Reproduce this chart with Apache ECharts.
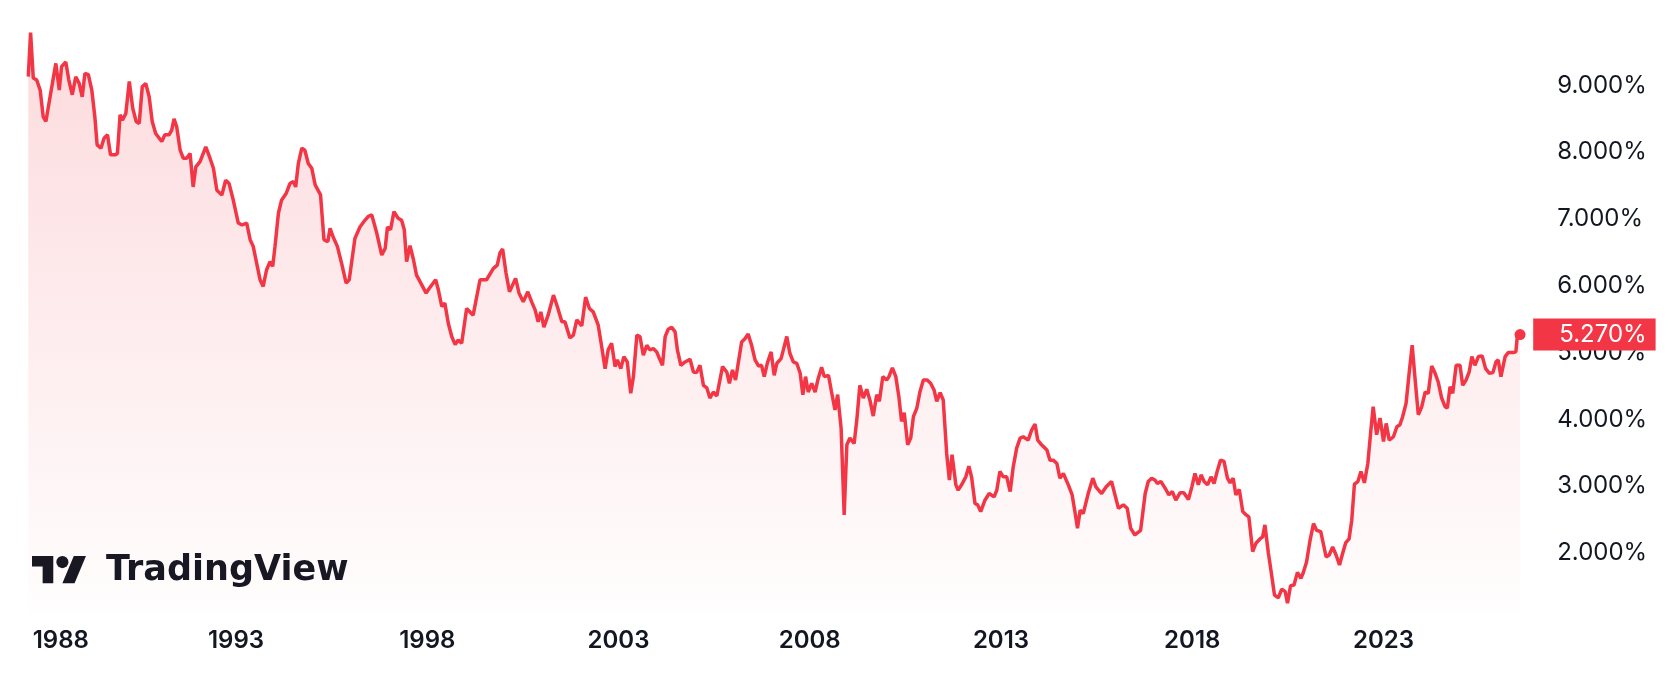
<!DOCTYPE html>
<html>
<head>
<meta charset="utf-8">
<title>Yield</title>
<script src="https://cdn.jsdelivr.net/npm/echarts@6/dist/echarts.min.js"></script>
<style>
html, body { margin: 0; padding: 0; background: #fff; }
#container { width: 1670px; height: 676px; }
</style>
</head>
<body>
<div id="container"></div>
<script>
var dom = document.getElementById("container");
var myChart = echarts.init(dom);
var option;

// time in decimal years
var years = [
    1987.57, 1987.63, 1987.70, 1987.79, 1987.88, 1987.96, 1988.03, 1988.14, 1988.29, 1988.38,
    1988.44, 1988.55, 1988.63, 1988.72, 1988.81, 1988.90, 1988.98, 1989.05, 1989.14, 1989.23,
    1989.31, 1989.37, 1989.47, 1989.55, 1989.64, 1989.72, 1989.84, 1989.90, 1989.97, 1990.03,
    1990.12, 1990.21, 1990.30, 1990.39, 1990.47, 1990.55, 1990.64, 1990.73, 1990.81, 1990.90,
    1991.06, 1991.14, 1991.25, 1991.32, 1991.38, 1991.45, 1991.54, 1991.62, 1991.71, 1991.80,
    1991.88, 1991.95, 1992.06, 1992.21, 1992.32, 1992.41, 1992.50, 1992.63, 1992.73, 1992.82,
    1992.93, 1993.06, 1993.16, 1993.28, 1993.37, 1993.45,
    1993.63, 1993.71, 1993.80, 1993.89, 1993.96, 1994.02, 1994.11, 1994.19, 1994.31, 1994.41,
    1994.50, 1994.56, 1994.63, 1994.72, 1994.80, 1994.89, 1994.98, 1995.07, 1995.21, 1995.30,
    1995.40, 1995.46, 1995.54, 1995.65, 1995.76, 1995.88, 1995.96, 1996.11, 1996.24, 1996.37,
    1996.46, 1996.55, 1996.68, 1996.81, 1996.90, 1996.96, 1997.04, 1997.13, 1997.24, 1997.33,
    1997.40, 1997.46, 1997.55, 1997.64, 1997.72, 1997.86, 1997.97, 1998.05, 1998.22, 1998.29,
    1998.38, 1998.46, 1998.55, 1998.64, 1998.73, 1998.81, 1998.90, 1999.03, 1999.20, 1999.38,
    1999.55, 1999.73, 1999.83,
    1999.90, 1999.97, 2000.06, 2000.15, 2000.23, 2000.31, 2000.40, 2000.51, 2000.63, 2000.73,
    2000.82, 2000.90, 2000.97, 2001.05, 2001.16, 2001.30, 2001.40, 2001.52, 2001.60, 2001.73,
    2001.82, 2001.91, 2002.04, 2002.14, 2002.24, 2002.34, 2002.47, 2002.56, 2002.65, 2002.73,
    2002.82, 2002.91, 2002.97, 2003.06, 2003.14, 2003.23, 2003.32, 2003.39, 2003.48, 2003.56,
    2003.65, 2003.74, 2003.82, 2003.91, 2004.00, 2004.07, 2004.15, 2004.22, 2004.30, 2004.39,
    2004.48, 2004.54, 2004.63, 2004.74, 2004.87, 2004.96, 2005.04, 2005.13, 2005.22, 2005.31,
    2005.39, 2005.48, 2005.57, 2005.72, 2005.83, 2005.90, 2005.98, 2006.06,
    2006.22, 2006.31, 2006.39, 2006.48, 2006.57, 2006.66, 2006.74, 2006.81, 2006.89, 2006.99,
    2007.07, 2007.14, 2007.25, 2007.31, 2007.40, 2007.48, 2007.57, 2007.66, 2007.75, 2007.82,
    2007.89, 2007.96, 2008.05, 2008.14, 2008.22, 2008.31, 2008.38, 2008.49, 2008.57, 2008.66,
    2008.73, 2008.82, 2008.90, 2008.97, 2009.05, 2009.16, 2009.23, 2009.31, 2009.40, 2009.49,
    2009.58, 2009.66, 2009.75, 2009.82, 2009.91, 2010.01, 2010.07, 2010.16, 2010.25, 2010.33,
    2010.40, 2010.47, 2010.56, 2010.64, 2010.71, 2010.80, 2010.88, 2010.97, 2011.07, 2011.16,
    2011.25, 2011.32, 2011.41, 2011.49, 2011.58, 2011.65, 2011.72, 2011.82, 2011.88, 2011.99,
    2012.08, 2012.16, 2012.23, 2012.32, 2012.39, 2012.47, 2012.58, 2012.69, 2012.82, 2012.89,
    2012.97, 2013.06, 2013.15, 2013.24, 2013.32, 2013.41, 2013.50, 2013.58, 2013.71, 2013.80,
    2013.89, 2013.96, 2014.06, 2014.20, 2014.28, 2014.37, 2014.46, 2014.54, 2014.63, 2014.76,
    2014.86, 2014.94, 2015.00, 2015.07, 2015.15, 2015.28, 2015.40, 2015.48, 2015.63, 2015.75,
    2015.89, 2015.98, 2016.07, 2016.20, 2016.30, 2016.39, 2016.50,
    2016.65, 2016.77, 2016.85, 2016.94, 2017.03, 2017.09, 2017.18, 2017.29, 2017.39, 2017.48,
    2017.57, 2017.68, 2017.78, 2017.90, 2017.99, 2018.07, 2018.16, 2018.23, 2018.31, 2018.40,
    2018.49, 2018.57, 2018.66, 2018.74, 2018.83, 2018.92, 2018.99, 2019.07, 2019.14, 2019.23,
    2019.32, 2019.41, 2019.48, 2019.58, 2019.67, 2019.77, 2019.84, 2019.90, 2019.99, 2020.08,
    2020.15, 2020.25, 2020.34, 2020.43, 2020.49, 2020.57, 2020.66, 2020.75, 2020.84, 2020.90,
    2020.99, 2021.08, 2021.17, 2021.25, 2021.36, 2021.50, 2021.58, 2021.67, 2021.76, 2021.85,
    2021.92, 2022.01, 2022.10, 2022.17, 2022.24, 2022.33, 2022.41, 2022.50, 2022.59, 2022.67,
    2022.73, 2022.82, 2022.91, 2023.00, 2023.07, 2023.15, 2023.26, 2023.35, 2023.43, 2023.50,
    2023.59, 2023.67, 2023.75, 2023.82, 2023.91, 2024.00, 2024.09, 2024.17, 2024.26, 2024.35,
    2024.43, 2024.52, 2024.61, 2024.67, 2024.74, 2024.81, 2024.90, 2025.00, 2025.07, 2025.16,
    2025.24, 2025.31, 2025.39, 2025.48, 2025.58, 2025.67, 2025.77, 2025.86, 2025.94, 2026.00,
    2026.07, 2026.18, 2026.26, 2026.39, 2026.46, 2026.50, 2026.57
];

// yield in %
var yields = [
    9.13, 9.79, 9.11, 9.08, 8.93, 8.53, 8.46, 8.83, 9.33, 8.93,
    9.28, 9.35, 9.08, 8.86, 9.13, 9.03, 8.83, 9.18, 9.16, 8.93,
    8.53, 8.11, 8.06, 8.21, 8.26, 7.96, 7.96, 7.98, 8.56, 8.48,
    8.58, 9.06, 8.66, 8.46, 8.43, 8.98, 9.03, 8.83, 8.46, 8.28,
    8.16, 8.26, 8.26, 8.33, 8.50, 8.38, 8.03, 7.91, 7.91, 7.98,
    7.48, 7.78, 7.86, 8.08, 7.91, 7.76, 7.43, 7.36, 7.58, 7.53,
    7.28, 6.94, 6.91, 6.94, 6.69, 6.59,
    6.09, 5.99, 6.24, 6.36, 6.29, 6.59, 7.09, 7.28, 7.38, 7.53,
    7.56, 7.48, 7.83, 8.06, 8.03, 7.83, 7.76, 7.51, 7.36, 6.69,
    6.66, 6.86, 6.73, 6.59, 6.34, 6.04, 6.09, 6.71, 6.88, 6.98,
    7.04, 7.06, 6.79, 6.46, 6.56, 6.88, 6.84, 7.11, 7.01, 6.98,
    6.84, 6.36, 6.60, 6.39, 6.16, 6.01, 5.89, 5.96, 6.09, 5.94,
    5.69, 5.74, 5.44, 5.24, 5.12, 5.19, 5.14, 5.66, 5.56, 6.09,
    6.09, 6.26, 6.31,
    6.49, 6.55, 6.19, 5.91, 6.01, 6.11, 5.89, 5.76, 5.91, 5.76,
    5.64, 5.46, 5.61, 5.38, 5.56, 5.86, 5.69, 5.46, 5.46, 5.22,
    5.26, 5.49, 5.40, 5.83, 5.66, 5.61, 5.41, 5.09, 4.76, 5.04,
    5.14, 4.79, 4.89, 4.76, 4.94, 4.86, 4.39, 4.64, 5.26, 5.24,
    4.96, 5.11, 5.04, 5.06, 5.01, 4.91, 4.81, 5.24, 5.35, 5.38,
    5.31, 5.04, 4.81, 4.86, 4.90, 4.71, 4.70, 4.81, 4.51, 4.47,
    4.32, 4.41, 4.35, 4.79, 4.71, 4.54, 4.74, 4.59,
    5.16, 5.21, 5.28, 5.11, 4.89, 4.80, 4.81, 4.64, 4.84, 5.01,
    4.66, 4.84, 4.91, 5.04, 5.24, 4.99, 4.86, 4.84, 4.69, 4.37,
    4.64, 4.41, 4.54, 4.41, 4.61, 4.78, 4.64, 4.66, 4.41, 4.14,
    4.37, 3.87, 2.57, 3.62, 3.72, 3.64, 3.99, 4.51, 4.32, 4.45,
    4.27, 4.05, 4.37, 4.27, 4.64, 4.59, 4.64, 4.77, 4.64, 4.34,
    3.97, 4.10, 3.62, 3.72, 4.04, 4.17, 4.41, 4.59, 4.59, 4.54,
    4.44, 4.27, 4.40, 4.29, 3.49, 3.09, 3.47, 3.02, 2.94, 3.04,
    3.14, 3.30, 3.14, 2.74, 2.72, 2.62, 2.79, 2.89, 2.84, 2.94,
    3.22, 3.14, 3.14, 2.92, 3.29, 3.57, 3.72, 3.74, 3.69, 3.84,
    3.93, 3.69, 3.62, 3.54, 3.39, 3.39, 3.34, 3.12, 3.19, 3.02,
    2.87, 2.59, 2.37, 2.64, 2.59, 2.89, 3.12, 2.99, 2.89, 2.99,
    3.07, 2.87, 2.67, 2.72, 2.67, 2.37, 2.27,
    2.34, 2.89, 3.07, 3.12, 3.09, 3.04, 3.07, 2.97, 2.87, 2.92,
    2.79, 2.90, 2.90, 2.80, 2.99, 3.19, 3.02, 3.17, 3.07, 3.02,
    3.14, 3.04, 3.24, 3.39, 3.37, 3.12, 3.05, 3.12, 2.87, 2.95,
    2.62, 2.57, 2.54, 2.02, 2.15, 2.21, 2.24, 2.42, 2.00, 1.65,
    1.37, 1.33, 1.46, 1.42, 1.25, 1.51, 1.52, 1.71, 1.62, 1.70,
    1.87, 2.19, 2.44, 2.34, 2.32, 1.94, 1.97, 2.09, 1.97, 1.82,
    1.97, 2.15, 2.21, 2.49, 3.03, 3.07, 3.22, 3.05, 3.34, 3.84,
    4.19, 3.77, 4.02, 3.67, 3.94, 3.69, 3.74, 3.89, 3.92, 4.04,
    4.24, 4.69, 5.11, 4.64, 4.07, 4.19, 4.41, 4.39, 4.80, 4.69,
    4.56, 4.32, 4.19, 4.17, 4.49, 4.39, 4.81, 4.81, 4.51, 4.59,
    4.71, 4.94, 4.81, 4.94, 4.95, 4.76, 4.69, 4.70, 4.86, 4.89,
    4.64, 4.94, 5.00, 5.00, 5.01, 5.25, 5.27
];

// where the year labels sit on the time axis (first one sits a little late, as in the reference)
var yearTicks = [1988.42, 1993, 1998, 2003, 2008, 2013, 2018, 2023];
var yieldTicks = [2, 3, 4, 5, 6, 7, 8, 9];

var red = '#F23645';
var textColor = '#131722';

var points = years.map(function (t, i) {
    return [t, yields[i]];
});
var last = points[points.length - 1];

option = {
    animation: false,
    backgroundColor: '#ffffff',
    grid: {
        left:   26,
        right:  148.8,
        top:    1.9,
        bottom: 62.9
    },
    xAxis: {
        type: 'value',
        min: 1987.51,
        max: 2026.6,
        axisLine: { show: false },
        axisTick: { show: false },
        splitLine: { show: false },
        axisLabel: {
            customValues: yearTicks,
            formatter: function (v) {
                return String(Math.floor(v));
            },
            margin: 16,
            fontSize: 24,
            fontWeight: 600,
            fontFamily: 'Inter',
            color: textColor
        }
    },
    yAxis: {
        type: 'value',
        position: 'right',
        min: 1.1,
        max: 10.25,
        axisLine: { show: false },
        axisTick: { show: false },
        splitLine: { show: false },
        axisLabel: {
            customValues: yieldTicks,
            formatter: function (v) {
                return v.toFixed(3) + '%';
            },
            margin: 36,
            fontSize: 24,
            fontFamily: 'Inter',
            color: textColor
        }
    },
    series: [
        {
            type: 'line',
            data: points,
            showSymbol: false,
            lineStyle: { color: red, width: 3.5 },
            itemStyle: { color: red },
            areaStyle: {
                origin: 'start',
                color: {
                    type: 'linear',
                    x: 0, y: 0, x2: 0, y2: 1,
                    colorStops: [
                        { offset: 0, color: 'rgba(242,54,69,0.26)' },
                        { offset: 1, color: 'rgba(242,54,69,0.01)' }
                    ]
                }
            },
            markPoint: {
                silent: true,
                symbol: 'circle',
                symbolSize: 11,
                itemStyle: { color: red },
                label: { show: false },
                data: [{ coord: last }]
            },
            markLine: {
                silent: true,
                symbol: 'none',
                lineStyle: { width: 0, color: 'rgba(0,0,0,0)' },
                label: {
                    position: 'end',
                    distance: 12,
                    formatter: last[1].toFixed(3) + '%',
                    backgroundColor: red,
                    color: '#ffffff',
                    fontSize: 24,
                    fontFamily: 'Inter',
                    lineHeight: 24,
                    padding: [4, 9, 4, 26]
                },
                data: [{ yAxis: last[1] }]
            }
        }
    ],
    graphic: [
        {
            // TradingView mark, drawn in its own 36x28 units
            type: 'group',
            x: 32,
            y: 549.9,
            scaleX: 1.52,
            scaleY: 1.52,
            children: [
                {
                    type: 'polygon',
                    shape: { points: [[0, 4], [14, 4], [14, 22], [7, 22], [7, 11], [0, 11]] },
                    style: { fill: textColor }
                },
                {
                    type: 'polygon',
                    shape: { points: [[28, 22], [20, 22], [27.5, 4], [35.5, 4]] },
                    style: { fill: textColor }
                },
                {
                    type: 'circle',
                    shape: { cx: 20, cy: 8, r: 4 },
                    style: { fill: textColor }
                }
            ]
        },
        {
            type: 'text',
            x: 106,
            y: 571,
            style: {
                text: 'TradingView',
                font: 'bold 35px "DejaVu Sans"',
                fill: textColor,
                verticalAlign: 'middle'
            }
        }
    ]
};

if (option && typeof option === 'object') {
    myChart.setOption(option);
}
</script>
</body>
</html>
